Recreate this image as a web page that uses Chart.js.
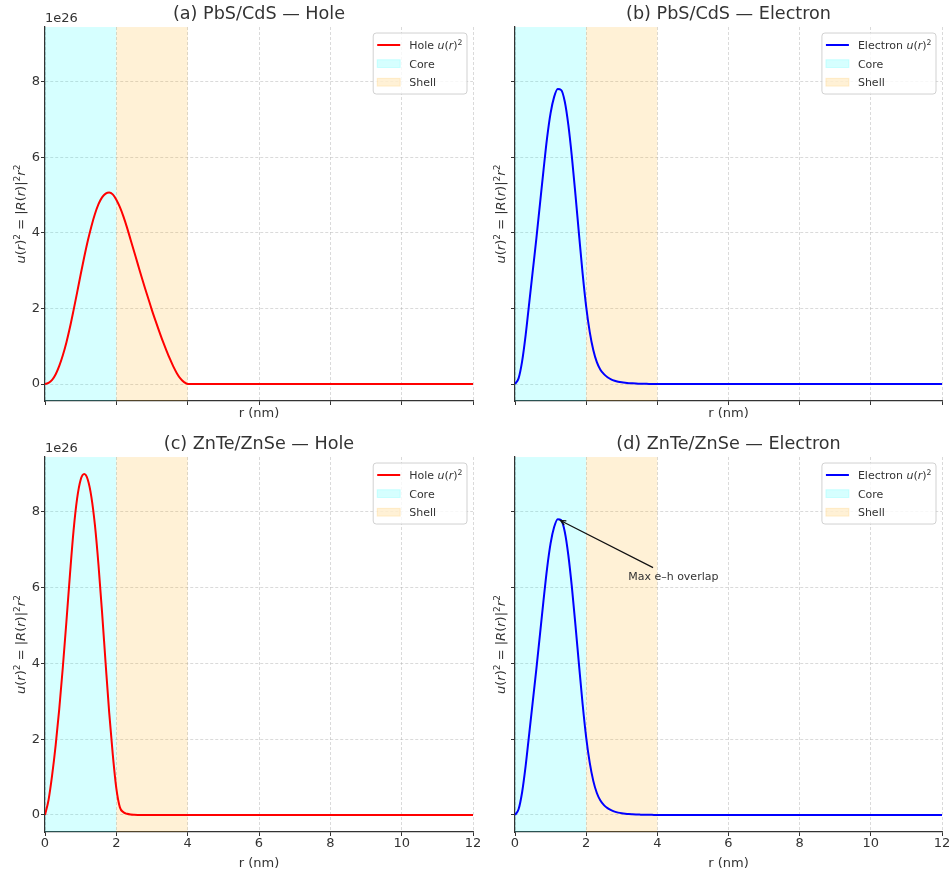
<!DOCTYPE html>
<html>
<head>
<meta charset="utf-8">
<script src="https://cdn.jsdelivr.net/npm/chart.js@4.4.0/dist/chart.umd.min.js"></script>
<style>
  html, body { margin: 0; padding: 0; background: #fff; }
  body { width: 950px; height: 874px; position: relative; overflow: hidden; }
  canvas { position: absolute; }
</style>
</head>
<body>
<canvas id="panelA" width="490" height="430" style="left:0;top:0"></canvas>
<canvas id="panelB" width="472" height="430" style="left:478px;top:0"></canvas>
<canvas id="panelC" width="490" height="444" style="left:0;top:430px"></canvas>
<canvas id="panelD" width="472" height="444" style="left:478px;top:430px"></canvas>
<script>
// radius grid (nm)
const rValues = [0.0, 0.1, 0.2, 0.3, 0.4, 0.5, 0.6, 0.7, 0.8, 0.9, 1.0,
  1.1, 1.2, 1.3, 1.4, 1.5, 1.6, 1.7, 1.8, 1.9, 2.0,
  2.1, 2.2, 2.3, 2.4, 2.5, 2.6, 2.7, 2.8, 2.9, 3.0,
  3.1, 3.2, 3.3, 3.4, 3.5, 3.6, 3.7, 3.8, 3.9, 4.0,
  5, 6, 7, 8, 9, 10, 11, 12];

// u(r)^2 in units of 1e26
const holePbS = [0, 0.03, 0.11, 0.26, 0.48, 0.76, 1.1, 1.5, 1.95, 2.42, 2.9,
  3.36, 3.79, 4.17, 4.5, 4.76, 4.94, 5.04, 5.07, 5.02, 4.88,
  4.68, 4.43, 4.14, 3.82, 3.5, 3.18, 2.86, 2.55, 2.25, 1.95,
  1.67, 1.4, 1.14, 0.9, 0.67, 0.46, 0.28, 0.14, 0.05, 0,
  0, 0, 0, 0, 0, 0, 0, 0];
const electronPbS = [0, 0.15, 0.6, 1.3, 2.15, 3.0, 3.85, 4.75, 5.65, 6.5, 7.17,
  7.6, 7.81, 7.78, 7.47, 6.85, 6.0, 5.0, 3.95, 2.93, 2.05,
  1.38, 0.9, 0.58, 0.38, 0.26, 0.18, 0.125, 0.088, 0.062, 0.044,
  0.032, 0.023, 0.017, 0.012, 0.009, 0.006, 0.004, 0.003, 0.002, 0.001,
  0.0003, 0, 0, 0, 0, 0, 0, 0];
const holeZnTe = [0, 0.4, 1.05, 1.85, 2.8, 3.9, 5.1, 6.35, 7.5, 8.35, 8.85,
  9.0, 8.85, 8.4, 7.65, 6.6, 5.35, 4.0, 2.7, 1.6, 0.7,
  0.2, 0.07, 0.03, 0.012, 0.005, 0.002, 0.001, 0, 0, 0,
  0, 0, 0, 0, 0, 0, 0, 0, 0, 0,
  0, 0, 0, 0, 0, 0, 0, 0];
const electronZnSe = [0, 0.15, 0.6, 1.3, 2.15, 3.0, 3.85, 4.75, 5.65, 6.5, 7.17,
  7.6, 7.81, 7.78, 7.47, 6.85, 6.0, 5.0, 3.95, 2.93, 2.05,
  1.38, 0.9, 0.58, 0.38, 0.26, 0.18, 0.125, 0.088, 0.062, 0.044,
  0.032, 0.023, 0.017, 0.012, 0.009, 0.006, 0.004, 0.003, 0.002, 0.001,
  0.0003, 0, 0, 0, 0, 0, 0, 0];

const coreRange = [0, 2];
const shellRange = [2, 4];
const xTicks = [0, 2, 4, 6, 8, 10, 12];
const yTicks = [0, 2, 4, 6, 8];
const yScaleLabel = '1e26';
const annotText = 'Max e\u2013h overlap';
const annotTextAt = [3.18, 6.29];
const annotTailAt = [3.88, 6.53];

const coreFill = 'rgba(0, 255, 255, 0.16)';
const shellFill = 'rgba(255, 165, 0, 0.16)';
const FONT = "'DejaVu Sans'";

Chart.defaults.font.family = FONT;
Chart.defaults.color = '#333';

const panels = [
  { id: 'panelA', title: '(a) PbS/CdS \u2014 Hole', name: 'Hole', values: holePbS, color: '#ff0000',
    showX: false, showY: true, yAxisW: 45, xAxisH: 29, padRight: 17, xTitlePad: 8.2, yLabelGap: 25 },
  { id: 'panelB', title: '(b) PbS/CdS \u2014 Electron', name: 'Electron', values: electronPbS, color: '#0000ff',
    showX: false, showY: false, yAxisW: 37, xAxisH: 29, padRight: 8, xTitlePad: 8.2, yLabelGap: 15 },
  { id: 'panelC', title: '(c) ZnTe/ZnSe \u2014 Hole', name: 'Hole', values: holeZnTe, color: '#ff0000',
    showX: true, showY: true, yAxisW: 45, xAxisH: 42, padRight: 17, xTitlePad: 2.2, yLabelGap: 25 },
  { id: 'panelD', title: '(d) ZnTe/ZnSe \u2014 Electron', name: 'Electron', values: electronZnSe, color: '#0000ff',
    showX: true, showY: false, yAxisW: 37, xAxisH: 42, padRight: 8, xTitlePad: 2.2, yLabelGap: 15, annotate: true }
];

// text pieces: n = normal, i = italic, s = superscript
function partFont(style, size) {
  const it = style.includes('i') ? 'italic ' : '';
  const sz = style.includes('s') ? size * 0.7 : size;
  return it + sz + 'px ' + FONT;
}
function measureParts(ctx, parts, size) {
  let w = 0;
  parts.forEach(([t, s]) => { ctx.font = partFont(s, size); w += ctx.measureText(t).width; });
  return w;
}
function drawParts(ctx, parts, x, y, size) {
  ctx.textAlign = 'left';
  ctx.textBaseline = 'alphabetic';
  const base = y + size * 0.36;
  let cx = x;
  parts.forEach(([t, s]) => {
    ctx.font = partFont(s, size);
    ctx.fillText(t, cx, base - (s.includes('s') ? size * 0.38 : 0));
    cx += ctx.measureText(t).width;
  });
}

const yLabelParts = [['u', 'i'], ['(', 'n'], ['r', 'i'], [')', 'n'], ['2', 's'], [' = |', 'n'],
  ['R', 'i'], ['(', 'n'], ['r', 'i'], [')|', 'n'], ['2', 's'], ['r', 'i'], ['2', 's']];

const spansPlugin = {
  id: 'spans',
  beforeDatasetsDraw(chart) {
    const { ctx, chartArea: a, scales: { x } } = chart;
    ctx.save();
    [[coreRange, coreFill], [shellRange, shellFill]].forEach(([rg, c]) => {
      const x0 = x.getPixelForValue(rg[0]);
      const x1 = x.getPixelForValue(rg[1]);
      ctx.fillStyle = c;
      ctx.fillRect(x0, a.top, x1 - x0, a.bottom - a.top);
    });
    ctx.restore();
  }
};

const extrasPlugin = {
  id: 'extras',
  afterDraw(chart) {
    const p = panels.find(q => q.id === chart.canvas.id);
    const { ctx, chartArea: a, scales: { x, y } } = chart;
    ctx.save();
    ctx.fillStyle = '#333';

    // y label
    const w = measureParts(ctx, yLabelParts, 13);
    ctx.save();
    ctx.translate(a.left - p.yLabelGap, (a.top + a.bottom) / 2);
    ctx.rotate(-Math.PI / 2);
    drawParts(ctx, yLabelParts, -w / 2, 0, 13);
    ctx.restore();

    // offset text
    if (p.showY) {
      ctx.font = '13px ' + FONT;
      ctx.textAlign = 'left';
      ctx.textBaseline = 'middle';
      ctx.fillText(yScaleLabel, a.left, a.top - 8.5);
    }

    // legend
    const fs = 11;
    const rows = [
      { kind: 'line', color: p.color, parts: [[p.name + ' ', 'n'], ['u', 'i'], ['(', 'n'], ['r', 'i'], [')', 'n'], ['2', 's']] },
      { kind: 'patch', color: coreFill, parts: [['Core', 'n']] },
      { kind: 'patch', color: shellFill, parts: [['Shell', 'n']] }
    ];
    const tw = Math.max(...rows.map(r => measureParts(ctx, r.parts, fs)));
    const lw = 36 + tw + 4.5, lh = 61;
    const lx = a.right - 6 - lw, ly = a.top + 6;
    ctx.beginPath();
    ctx.roundRect(lx, ly, lw, lh, 3);
    ctx.fillStyle = 'rgba(255,255,255,0.8)';
    ctx.fill();
    ctx.strokeStyle = 'rgba(204,204,204,0.9)';
    ctx.lineWidth = 1;
    ctx.stroke();
    rows.forEach((r, i) => {
      const cy = ly + 12 + i * 18.6;
      if (r.kind === 'line') {
        ctx.strokeStyle = r.color;
        ctx.lineWidth = 2;
        ctx.beginPath();
        ctx.moveTo(lx + 4, cy);
        ctx.lineTo(lx + 27, cy);
        ctx.stroke();
      } else {
        ctx.fillStyle = r.color;
        ctx.fillRect(lx + 4, cy - 3.9, 23, 7.8);
        ctx.strokeStyle = r.color;
        ctx.lineWidth = 1;
        ctx.strokeRect(lx + 4, cy - 3.9, 23, 7.8);
      }
      ctx.fillStyle = '#333';
      drawParts(ctx, r.parts, lx + 36, cy, fs);
    });

    // annotation
    if (p.annotate) {
      let iMax = 0;
      p.values.forEach((v, i) => { if (v > p.values[iMax]) iMax = i; });
      const hx = x.getPixelForValue(rValues[iMax]);
      const hy = y.getPixelForValue(p.values[iMax]);
      const tx = x.getPixelForValue(annotTailAt[0]);
      const ty = y.getPixelForValue(annotTailAt[1]);
      const ang = Math.atan2(hy - ty, hx - tx);
      const ex = hx - 3 * Math.cos(ang), ey = hy - 3 * Math.sin(ang);
      ctx.strokeStyle = '#111';
      ctx.lineWidth = 1.2;
      ctx.beginPath();
      ctx.moveTo(tx, ty);
      ctx.lineTo(ex, ey);
      ctx.moveTo(ex - 6 * Math.cos(ang - 0.4), ey - 6 * Math.sin(ang - 0.4));
      ctx.lineTo(ex, ey);
      ctx.lineTo(ex - 6 * Math.cos(ang + 0.4), ey - 6 * Math.sin(ang + 0.4));
      ctx.stroke();
      ctx.fillStyle = '#333';
      ctx.font = '11px ' + FONT;
      ctx.textAlign = 'left';
      ctx.textBaseline = 'middle';
      ctx.fillText(annotText, x.getPixelForValue(annotTextAt[0]), y.getPixelForValue(annotTextAt[1]));
    }
    ctx.restore();
  }
};

function zeroPad(s) { s.paddingLeft = 0; s.paddingRight = 0; s.paddingTop = 0; s.paddingBottom = 0; }

panels.forEach(p => {
  new Chart(document.getElementById(p.id), {
    type: 'line',
    data: {
      datasets: [{
        label: p.name,
        data: rValues.map((r, i) => ({ x: r, y: p.values[i] })),
        borderColor: p.color,
        borderWidth: 2,
        pointRadius: 0,
        cubicInterpolationMode: 'monotone',
        fill: false
      }]
    },
    options: {
      responsive: false,
      animation: false,
      layout: { padding: { left: 0, right: p.padRight, top: 0, bottom: 0 } },
      plugins: {
        legend: { display: false },
        tooltip: { enabled: false },
        title: {
          display: true,
          text: p.title,
          fullSize: false,
          color: '#333',
          font: { size: 17.6, weight: 'normal' },
          padding: { top: 3.4, bottom: 2.5 }
        }
      },
      scales: {
        x: {
          type: 'linear',
          min: 0,
          max: 12,
          afterBuildTicks: s => { s.ticks = xTicks.map(v => ({ value: v })); },
          afterFit: s => { s.height = p.xAxisH; zeroPad(s); },
          ticks: { display: p.showX, font: { size: 13 }, color: '#333', padding: 0, maxRotation: 0, autoSkip: false },
          grid: { color: 'rgba(170,170,170,0.55)', lineWidth: 0.8, tickLength: 4, tickColor: '#333', tickWidth: 1, tickBorderDash: [] },
          border: { display: true, color: '#333', width: 1.25, dash: [3, 2] },
          title: { display: true, text: 'r (nm)', font: { size: 13 }, color: '#333', padding: { top: 0, bottom: p.xTitlePad } }
        },
        y: {
          type: 'linear',
          min: -0.45,
          max: 9.45,
          afterBuildTicks: s => { s.ticks = yTicks.map(v => ({ value: v })); },
          afterFit: s => { s.width = p.yAxisW; zeroPad(s); },
          ticks: { display: p.showY, font: { size: 13 }, color: '#333', padding: 1 },
          grid: { color: 'rgba(170,170,170,0.55)', lineWidth: 0.8, tickLength: 4, tickColor: '#333', tickWidth: 1, tickBorderDash: [] },
          border: { display: true, color: '#333', width: 1.25, dash: [3, 2] }
        }
      }
    },
    plugins: [spansPlugin, extrasPlugin]
  });
});
</script>
</body>
</html>
